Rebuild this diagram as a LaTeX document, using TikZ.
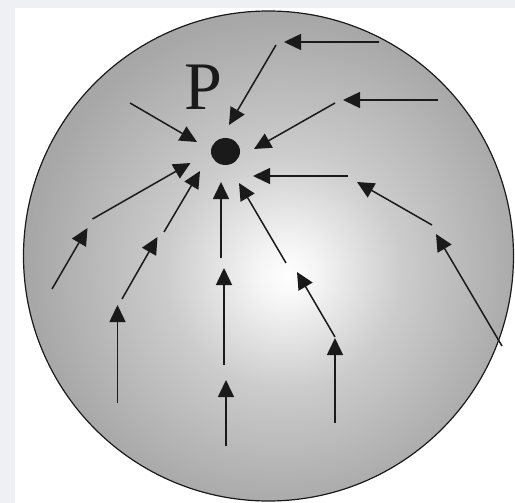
\documentclass[tikz,border=0pt]{standalone}
\usepackage{fontspec}
\setmainfont{Liberation Serif}
\usetikzlibrary{arrows.meta}
\definecolor{framebg}{HTML}{EEF0F3}
\definecolor{ink}{HTML}{1A1A1A}
\pgfdeclareradialshading{sphere}{\pgfpoint{2bp}{-2bp}}{%
  color(0bp)=(white);
  color(3bp)=(white!96!black);
  color(12bp)=(white!80!black);
  color(25bp)=(white!66!black);
  color(40bp)=(white!57!black);
  color(50bp)=(white!54!black)}
\tikzset{
  flow/.style={draw=ink, line width=1.5pt, -{Triangle[length=17pt,width=16pt]}, shorten >=0pt},
}
\begin{document}
\begin{tikzpicture}[x=1pt,y=-1pt]
  \useasboundingbox (0,0) rectangle (515,503);
  \fill[framebg] (0,0) rectangle (515,503);
  \fill[white] (15,8) rectangle (515,503);
  \shade[shading=sphere] (268.5,256) circle (245);
  \draw[ink, line width=1.2pt] (268.5,256) circle (245);
  \fill[ink] (225.5,151.5) ellipse (14.5 and 13.5);
  \node[inner sep=0, anchor=base, text=ink, font=\fontsize{68}{68}\selectfont] (P) at (203,110) {P};
  % arrow coordinates: start s, end e
  \coordinate (s1) at (379,42);   \coordinate (e1) at (284,42);
  \coordinate (s2) at (276,45);   \coordinate (e2) at (229,125);
  \coordinate (s3) at (438,100);  \coordinate (e3) at (343,100);
  \coordinate (s4) at (335,103);  \coordinate (e4) at (254,149);
  \coordinate (s5) at (130,103);  \coordinate (e5) at (197,142);
  \coordinate (s6) at (348,176);  \coordinate (e6) at (253,176);
  \coordinate (s7) at (432,225);  \coordinate (e7) at (357,182);
  \coordinate (s8) at (502,346);  \coordinate (e8) at (436,234);
  \coordinate (s9) at (335,423);  \coordinate (e9) at (335,338);
  \coordinate (s10) at (335,337); \coordinate (e10) at (297,272);
  \coordinate (s11) at (286,263); \coordinate (e11) at (239,183);
  \coordinate (s12) at (221,258); \coordinate (e12) at (221,182);
  \coordinate (s13) at (224,365); \coordinate (e13) at (224,268);
  \coordinate (s14) at (226,446); \coordinate (e14) at (226,380);
  \coordinate (s15) at (117.5,403); \coordinate (e15) at (117.5,305);
  \coordinate (s16) at (122,299); \coordinate (e16) at (157.5,237);
  \coordinate (s17) at (164,232); \coordinate (e17) at (200,171);
  \coordinate (s18) at (52,289);  \coordinate (e18) at (87.5,228);
  \coordinate (s19) at (92.5,219); \coordinate (e19) at (190.5,163);
  \foreach \i in {1,...,19} {\draw[flow] (s\i) -- (e\i);}
\end{tikzpicture}
\end{document}
